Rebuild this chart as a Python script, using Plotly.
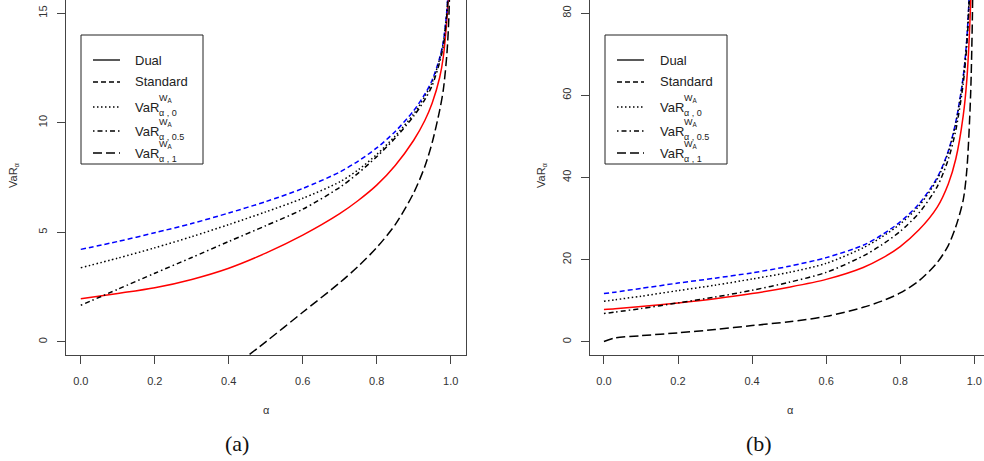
import plotly.graph_objects as go

W, H = 984, 461

# ---------------- data ----------------
alpha = [0, .1, .2, .3, .4, .5, .6, .7, .75, .8, .85, .9, .93, .95, .97, .98, .99, .995, .999]

# panel (a)
a_dual     = [1.97, 2.21, 2.47, 2.85, 3.36, 4.05, 4.87, 5.85, 6.45, 7.15, 8.05, 9.2, 10.1, 10.9, 12.05, 13.0, 14.8, 16.3, 19.0]
a_standard = [4.22, 4.58, 4.98, 5.4, 5.88, 6.4, 7.0, 7.75, 8.25, 8.85, 9.6, 10.55, 11.3, 11.95, 12.95, 13.7, 15.2, 16.8, 19.5]
a_w0       = [3.38, 3.82, 4.29, 4.8, 5.35, 5.93, 6.55, 7.3, 7.85, 8.55, 9.4, 10.4, 11.2, 11.85, 12.9, 13.65, 15.15, 16.7, 19.5]
a_w05      = [1.67, 2.4, 3.13, 3.85, 4.58, 5.3, 6.05, 7.05, 7.7, 8.45, 9.3, 10.3, 11.05, 11.7, 12.75, 13.5, 15.0, 16.6, 19.5]
alpha_a_w1 = [.4, .5, .6, .7, .75, .8, .85, .9, .93, .95, .97, .98, .99, .995, .999]
a_w1       = [-1.3, 0.0, 1.35, 2.7, 3.45, 4.3, 5.35, 6.8, 8.0, 9.1, 10.55, 11.5, 13.2, 14.8, 17.5]

# panel (b)
alpha_b = [0, .03, .1, .2, .3, .4, .5, .6, .7, .75, .8, .85, .9, .93, .95, .97, .98, .99, .995, .999]
b_dual     = [7.85, 8.05, 8.6, 9.48, 10.5, 11.74, 13.3, 15.2, 18.1, 20.3, 23.2, 27.2, 32.8, 38.5, 44.5, 55.0, 64.0, 82.0, 100.0, 130.0]
b_standard = [11.74, 12.1, 13.0, 14.3, 15.5, 16.8, 18.4, 20.5, 23.5, 26.0, 29.2, 33.5, 40.0, 46.5, 53.5, 64.5, 74.0, 92.0, 110.0, 140.0]
b_w0       = [9.88, 10.25, 11.1, 12.47, 13.8, 15.3, 16.9, 19.1, 22.9, 25.5, 28.7, 33.0, 39.6, 46.2, 53.2, 64.2, 73.7, 91.5, 110.0, 140.0]
b_w05      = [6.88, 7.25, 8.1, 9.48, 10.9, 12.55, 14.5, 16.9, 20.9, 23.6, 26.9, 31.3, 37.8, 44.5, 51.5, 62.8, 72.5, 90.5, 110.0, 140.0]
b_w1       = [0.1, 0.97, 1.5, 2.19, 3.0, 3.96, 4.9, 6.2, 8.4, 9.9, 11.9, 14.8, 19.3, 23.5, 28.0, 34.5, 42.0, 60.0, 80.0, 120.0]

x_ticks = [0, 0.2, 0.4, 0.6, 0.8, 1.0]
x_ticktext = ["0.0", "0.2", "0.4", "0.6", "0.8", "1.0"]
a_yticks = [0, 5, 10, 15]
b_yticks = [0, 20, 40, 60, 80]

legend_names = ["Dual", "Standard", "VaR_0", "VaR_0.5", "VaR_1"]
legend_subs = [None, None, "0", "0.5", "1"]

# ---------------- styles ----------------
styles = [
    dict(color="#ff0000", dash="solid"),
    dict(color="#0000ff", dash="5px,3px"),
    dict(color="#000000", dash="1.5px,2.5px"),
    dict(color="#000000", dash="1.5px,3px,5px,3px"),
    dict(color="#000000", dash="9px,4px"),
]
LW = 1.5

def px(x):
    return x / W

def py(y):
    return 1 - y / H

fig = go.Figure()

a_series = [(alpha, a_dual), (alpha, a_standard), (alpha, a_w0), (alpha, a_w05), (alpha_a_w1, a_w1)]
b_series = [(alpha_b, b_dual), (alpha_b, b_standard), (alpha_b, b_w0), (alpha_b, b_w05), (alpha_b, b_w1)]

for (xs, ys), st in zip(a_series, styles):
    fig.add_trace(go.Scatter(x=xs, y=ys, mode="lines", line_shape="spline",
                             line=dict(color=st["color"], dash=st["dash"], width=LW, smoothing=0.8),
                             xaxis="x", yaxis="y", showlegend=False, hoverinfo="skip"))
for (xs, ys), st in zip(b_series, styles):
    fig.add_trace(go.Scatter(x=xs, y=ys, mode="lines", line_shape="spline",
                             line=dict(color=st["color"], dash=st["dash"], width=LW, smoothing=0.8),
                             xaxis="x2", yaxis="y2", showlegend=False, hoverinfo="skip"))

tickfont = dict(family="Liberation Sans", size=11, color="#333")
axis_common = dict(showgrid=False, zeroline=False, showline=True, linecolor="#444", linewidth=1,
                   ticks="outside", ticklen=8, tickcolor="#444", tickfont=tickfont)

y_dom = [1 - 355 / H, 1.0]
fig.update_layout(
    width=W, height=H, margin=dict(l=0, r=0, t=0, b=0),
    paper_bgcolor="white", plot_bgcolor="white",
    xaxis=dict(domain=[px(66), px(465.5)], range=[-0.04, 1.04], tickvals=x_ticks, ticktext=x_ticktext,
               mirror=True, anchor="y", ticklabelstandoff=8, **axis_common),
    yaxis=dict(domain=y_dom, range=[-0.6, 15.6], tickvals=a_yticks, tickangle=-90,
               mirror=True, anchor="x", ticklabelstandoff=6, **axis_common),
    xaxis2=dict(domain=[px(589.5), 1.0], range=[-0.039, 1.0262], tickvals=x_ticks, ticktext=x_ticktext,
                mirror=True, anchor="y2", ticklabelstandoff=8, **axis_common),
    yaxis2=dict(domain=y_dom, range=[-3.2, 83.2], tickvals=b_yticks, tickangle=-90,
                mirror=False, anchor="x2", ticklabelstandoff=5, **axis_common),
)

annotations = []
shapes = []

lab_font = dict(family="Liberation Sans", size=11, color="#333")
# axis titles
for cx in (266, 790):
    annotations.append(dict(x=px(cx), y=py(410), xref="paper", yref="paper", text="α",
                            showarrow=False, font=lab_font, xanchor="center", yanchor="middle"))
for cx in (14, 542):
    annotations.append(dict(x=px(cx), y=py(175), xref="paper", yref="paper", text="VaR<sub>α</sub>",
                            textangle=-90, showarrow=False, font=lab_font, xanchor="center", yanchor="middle"))
# captions
cap_font = dict(family="Liberation Serif", size=22, color="#111")
for cx, t in ((237, "(a)"), (759, "(b)")):
    annotations.append(dict(x=px(cx), y=py(443), xref="paper", yref="paper", text=t,
                            showarrow=False, font=cap_font, xanchor="center", yanchor="middle"))

# legends
rows = [60, 82, 107, 131, 153]
leg_font = dict(family="Liberation Sans", size=13, color="#222")
small_font = dict(family="Liberation Sans", size=9, color="#222")
for (bx0, bx1, lx0, lx1, tx) in ((81, 203, 93, 120, 133), (605, 727, 617, 644, 658)):
    shapes.append(dict(type="rect", xref="paper", yref="paper", x0=px(bx0), x1=px(bx1),
                       y0=py(35), y1=py(164), line=dict(color="#222", width=1), fillcolor="rgba(0,0,0,0)"))
    for i, (name, sub, st) in enumerate(zip(legend_names, legend_subs, styles)):
        ry = rows[i]
        shapes.append(dict(type="line", xref="paper", yref="paper", x0=px(lx0), x1=px(lx1),
                           y0=py(ry), y1=py(ry), line=dict(color="#000", dash=st["dash"], width=1.3)))
        if sub is None:
            annotations.append(dict(x=px(tx), y=py(ry), xref="paper", yref="paper", text=name,
                                    showarrow=False, font=leg_font, xanchor="left", yanchor="middle"))
        else:
            annotations.append(dict(x=px(tx), y=py(ry), xref="paper", yref="paper", text="VaR",
                                    showarrow=False, font=leg_font, xanchor="left", yanchor="middle"))
            annotations.append(dict(x=px(tx + 24), y=py(ry - 8), xref="paper", yref="paper",
                                    text="W<sub>A</sub>", showarrow=False, font=small_font,
                                    xanchor="left", yanchor="middle"))
            annotations.append(dict(x=px(tx + 24), y=py(ry + 6), xref="paper", yref="paper",
                                    text="α , " + sub, showarrow=False, font=small_font,
                                    xanchor="left", yanchor="middle"))

fig.update_layout(annotations=annotations, shapes=shapes)
fig.write_html("out.html", config={"displayModeBar": False},
               post_script="document.body.style.margin='0';document.body.style.overflow='hidden';")
